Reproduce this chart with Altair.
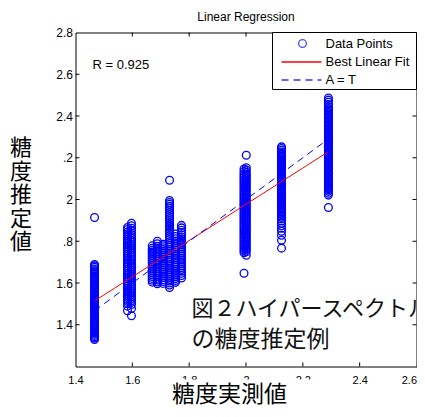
import altair as alt
import pandas as pd

# ---- data ----
col_x = [1.467, 1.583, 1.597,
         1.670, 1.688, 1.708, 1.731, 1.752, 1.773,
         1.993, 2.001, 2.125, 2.290]
col_y = [
    [1.329, 1.336, 1.342, 1.349, 1.355, 1.362, 1.368, 1.374, 1.381, 1.387, 1.394, 1.400, 1.407, 1.413,
     1.420, 1.426, 1.433, 1.439, 1.446, 1.452, 1.459, 1.465, 1.472, 1.478, 1.485, 1.491, 1.498, 1.504,
     1.511, 1.517, 1.524, 1.530, 1.537, 1.543, 1.550, 1.556, 1.563, 1.569, 1.576, 1.582, 1.589, 1.595,
     1.602, 1.608, 1.615, 1.621, 1.628, 1.634, 1.641, 1.647, 1.654, 1.660, 1.667, 1.675, 1.682, 1.689,
     1.914],
    [1.467, 1.489, 1.503, 1.512, 1.521, 1.530, 1.539, 1.548, 1.557, 1.566, 1.575, 1.584, 1.593, 1.602,
     1.611, 1.620, 1.629, 1.638, 1.647, 1.656, 1.665, 1.674, 1.683, 1.692, 1.701, 1.710, 1.719, 1.728,
     1.737, 1.746, 1.755, 1.764, 1.773, 1.782, 1.791, 1.800, 1.809, 1.818, 1.827, 1.836, 1.845, 1.856,
     1.866],
    [1.443, 1.478, 1.497, 1.507, 1.516, 1.525, 1.534, 1.543, 1.552, 1.561, 1.570, 1.579, 1.588, 1.597,
     1.606, 1.615, 1.624, 1.633, 1.642, 1.651, 1.660, 1.669, 1.678, 1.687, 1.696, 1.705, 1.714, 1.723,
     1.732, 1.741, 1.750, 1.759, 1.768, 1.777, 1.786, 1.795, 1.804, 1.813, 1.822, 1.831, 1.840, 1.851,
     1.862, 1.874, 1.886],
    [1.604, 1.613, 1.622, 1.631, 1.640, 1.649, 1.658, 1.667, 1.676, 1.685, 1.694, 1.703, 1.712, 1.721,
     1.730, 1.739, 1.748, 1.757, 1.766, 1.778],
    [1.596, 1.605, 1.614, 1.623, 1.632, 1.641, 1.650, 1.659, 1.668, 1.677, 1.686, 1.695, 1.704, 1.713,
     1.722, 1.731, 1.740, 1.749, 1.758, 1.767, 1.776, 1.788, 1.800],
    [1.598, 1.607, 1.616, 1.625, 1.634, 1.643, 1.652, 1.661, 1.670, 1.679, 1.688, 1.697, 1.706, 1.715,
     1.724, 1.733, 1.742, 1.751, 1.760, 1.769, 1.778, 1.786],
    [1.578, 1.590, 1.600, 1.609, 1.618, 1.627, 1.636, 1.645, 1.654, 1.663, 1.672, 1.681, 1.690, 1.699,
     1.708, 1.717, 1.726, 1.735, 1.744, 1.753, 1.762, 1.771, 1.780, 1.789, 1.798, 1.808, 1.818, 1.828,
     1.838, 1.848, 1.858, 1.868, 1.878, 1.888, 1.898, 1.908, 1.918, 1.928, 1.938, 1.948, 1.958, 1.968,
     1.977, 1.986, 1.995, 2.092],
    [1.603, 1.612, 1.621, 1.630, 1.639, 1.648, 1.657, 1.666, 1.675, 1.684, 1.693, 1.702, 1.711, 1.720,
     1.729, 1.738, 1.747, 1.756, 1.765, 1.774, 1.783, 1.792, 1.801, 1.812, 1.823, 1.835],
    [1.624, 1.636, 1.647, 1.656, 1.665, 1.674, 1.683, 1.692, 1.701, 1.710, 1.719, 1.728, 1.737, 1.746,
     1.755, 1.764, 1.773, 1.782, 1.791, 1.800, 1.810, 1.820, 1.831, 1.842, 1.853, 1.864, 1.876],
    [1.647, 1.745, 1.754, 1.763, 1.772, 1.781, 1.790, 1.799, 1.808, 1.817, 1.826, 1.835, 1.844, 1.853,
     1.862, 1.871, 1.880, 1.889, 1.898, 1.907, 1.916, 1.925, 1.934, 1.943, 1.952, 1.961, 1.970, 1.979,
     1.988, 1.997, 2.006, 2.015, 2.024, 2.033, 2.042, 2.051, 2.060, 2.069, 2.078, 2.087, 2.096, 2.105,
     2.114, 2.123, 2.134, 2.146],
    [1.733, 1.750, 1.760, 1.769, 1.778, 1.787, 1.796, 1.805, 1.814, 1.823, 1.832, 1.841, 1.850, 1.859,
     1.868, 1.877, 1.886, 1.895, 1.904, 1.913, 1.922, 1.931, 1.940, 1.949, 1.958, 1.967, 1.976, 1.985,
     1.994, 2.003, 2.012, 2.021, 2.030, 2.039, 2.048, 2.057, 2.066, 2.075, 2.084, 2.093, 2.102, 2.111,
     2.120, 2.130, 2.141, 2.152, 2.212],
    [1.767, 1.805, 1.829, 1.848, 1.862, 1.874, 1.886, 1.897, 1.907, 1.915, 1.922, 1.928, 1.935, 1.941,
     1.948, 1.954, 1.961, 1.967, 1.974, 1.980, 1.987, 1.993, 2.000, 2.006, 2.013, 2.019, 2.026, 2.032,
     2.039, 2.045, 2.052, 2.058, 2.065, 2.071, 2.078, 2.084, 2.091, 2.097, 2.104, 2.110, 2.117, 2.123,
     2.130, 2.136, 2.143, 2.149, 2.156, 2.162, 2.169, 2.175, 2.182, 2.188, 2.195, 2.201, 2.208, 2.214,
     2.221, 2.228, 2.236, 2.244, 2.252],
    [1.962, 2.021, 2.030, 2.039, 2.046, 2.052, 2.059, 2.065, 2.072, 2.078, 2.085, 2.091, 2.098, 2.104,
     2.111, 2.117, 2.124, 2.130, 2.137, 2.143, 2.150, 2.156, 2.163, 2.169, 2.176, 2.182, 2.189, 2.195,
     2.202, 2.208, 2.215, 2.221, 2.228, 2.234, 2.241, 2.247, 2.254, 2.260, 2.267, 2.273, 2.280, 2.286,
     2.293, 2.299, 2.306, 2.312, 2.319, 2.325, 2.332, 2.338, 2.345, 2.351, 2.358, 2.364, 2.371, 2.377,
     2.384, 2.390, 2.397, 2.403, 2.410, 2.416, 2.423, 2.429, 2.436, 2.445, 2.455, 2.466, 2.476, 2.486],
]

fit_t = [1.467, 2.290]
fit_a = [1.514, 2.229]
at_t = [1.467, 2.290]
at_a = [1.467, 2.290]

x_ticks = [1.4, 1.6, 1.8, 2.0, 2.2, 2.4, 2.6]
y_ticks = [1.4, 1.6, 1.8, 2.0, 2.2, 2.4, 2.6, 2.8]
x_inner = [1.6, 1.8, 2.0, 2.2, 2.4]
y_inner = [1.4, 1.6, 1.8, 2.0, 2.2, 2.4, 2.6]

title_text = ["Linear Regression"]
r_text = ["R = 0.925"]
leg_labels = ["Data Points", "Best Linear Fit", "A = T"]
x_title = ["糖度実測値"]
y_title = ["糖", "度", "推", "定", "値"]
caption = ["図２ハイパースペクトル", "の糖度推定例"]

# ---- build tables ----
rows = [(x, y) for x, ys in zip(col_x, col_y) for y in ys]
pts = pd.DataFrame(rows, columns=["t", "a"])
fit = pd.DataFrame({"t": fit_t, "a": fit_a})
ident = pd.DataFrame({"t": at_t, "a": at_a})
one = pd.DataFrame({"k": [0]})

W, H = 341, 334
BLUE = "#0000ff"
RED = "#ff0000"
LAT = "Liberation Sans"
JP = "Noto Sans CJK JP"

xs = alt.Scale(domain=[1.4, 2.6], nice=False, zero=False)
ys = alt.Scale(domain=[1.2, 2.8], nice=False, zero=False)

x_axis = alt.Axis(values=x_ticks, format="~g", ticks=False, domain=False, grid=False,
                  labelFont=LAT, labelFontSize=11, labelColor="black", labelPadding=8,
                  labelFlush=False, labelOverlap=False, zindex=0,
                  labelAlign={"condition": {"test": "datum.value == 2.6", "value": "right"},
                              "value": "center"},
                  title=None)
y_axis = alt.Axis(values=y_ticks, ticks=False, domain=False, grid=False,
                  labelExpr="datum.value == 2.2 ? '.2' : datum.value == 1.8 ? '.8' : format(datum.value, '~g')",
                  labelFont=LAT, labelFontSize=12, labelColor="black", labelPadding=3,
                  labelFlush=False, labelOverlap=False,
                  title=y_title, titleFont=JP, titleFontSize=22, titleFontWeight="normal",
                  titleColor="black", titleAngle=0, titleX=-55, titleY=105,
                  titleAlign="center", titleBaseline="top", titleLineHeight=23.6)

points = alt.Chart(pts).mark_point(shape="circle", filled=False, color=BLUE, size=60,
                                   strokeWidth=1.3, opacity=1).encode(
    x=alt.X("t:Q", scale=xs, axis=x_axis),
    y=alt.Y("a:Q", scale=ys, axis=y_axis),
)

fit_line = alt.Chart(fit).mark_line(color=RED, strokeWidth=1).encode(
    x=alt.X("t:Q", scale=xs), y=alt.Y("a:Q", scale=ys))
id_line = alt.Chart(ident).mark_line(color=BLUE, strokeWidth=1, strokeDash=[7, 5]).encode(
    x=alt.X("t:Q", scale=xs), y=alt.Y("a:Q", scale=ys))

xt = pd.DataFrame({"t": x_inner})
yt = pd.DataFrame({"a": y_inner})
tick_b = alt.Chart(xt).mark_rule(color="black").encode(
    x=alt.X("t:Q", scale=xs), y=alt.value(H), y2=alt.value(H - 4))
tick_t = alt.Chart(xt).mark_rule(color="black").encode(
    x=alt.X("t:Q", scale=xs), y=alt.value(0), y2=alt.value(4))
tick_l = alt.Chart(yt).mark_rule(color="black").encode(
    y=alt.Y("a:Q", scale=ys), x=alt.value(0), x2=alt.value(4))
tick_r = alt.Chart(yt).mark_rule(color="black").encode(
    y=alt.Y("a:Q", scale=ys), x=alt.value(W), x2=alt.value(W - 4))

title_mark = alt.Chart(pd.DataFrame({"label": title_text})).mark_text(
    align="center", baseline="alphabetic", font=LAT, fontSize=12, color="black").encode(
    x=alt.value(W / 2), y=alt.value(-12), text="label:N")

r_note = alt.Chart(pd.DataFrame({"label": r_text})).mark_text(
    align="left", baseline="middle", font=LAT, fontSize=13, color="black").encode(
    x=alt.value(17), y=alt.value(32), text="label:N")

# legend box
leg_box = alt.Chart(one).mark_rect(fill="white", stroke="black", strokeWidth=1).encode(
    x=alt.value(197), x2=alt.value(W), y=alt.value(0), y2=alt.value(57))
leg_pt = alt.Chart(one).mark_point(shape="circle", filled=False, color=BLUE, size=60,
                                   strokeWidth=1.3).encode(x=alt.value(227), y=alt.value(11))
leg_fit = alt.Chart(one).mark_rule(stroke=RED, strokeWidth=1.4).encode(
    x=alt.value(206), x2=alt.value(246), y=alt.value(29.5))
leg_id = alt.Chart(one).mark_rule(stroke="#3333ff", strokeWidth=1.4, strokeDash=[7, 5]).encode(
    x=alt.value(206), x2=alt.value(246), y=alt.value(47.5))
leg_txt = [
    alt.Chart(pd.DataFrame({"label": [lab]})).mark_text(
        align="left", baseline="middle", font=LAT, fontSize=13, color="black").encode(
        x=alt.value(250), y=alt.value(11 + 18 * i), text="label:N")
    for i, lab in enumerate(leg_labels)
]

# white patch that hides the lower part of three x tick labels, as in the reference
cover = alt.Chart(one).mark_rect(fill="white").encode(
    x=alt.value(95), x2=alt.value(254), y=alt.value(347), y2=alt.value(362))

# x axis title drawn above the white patch
x_title_mark = alt.Chart(pd.DataFrame({"label": x_title})).mark_text(
    align="center", baseline="middle", font=JP, fontSize=23, color="black").encode(
    x=alt.value(154), y=alt.value(H + 28), text="label:N")

cap1 = alt.Chart(pd.DataFrame({"label": [caption[0]]})).mark_text(
    align="left", baseline="middle", font=JP, fontSize=22, color="#111111").encode(
    x=alt.value(116), y=alt.value(276), text="label:N")
cap2 = alt.Chart(pd.DataFrame({"label": [caption[1]]})).mark_text(
    align="left", baseline="middle", font=JP, fontSize=23, color="#111111").encode(
    x=alt.value(116), y=alt.value(307), text="label:N")

chart = alt.layer(
    points, fit_line, id_line, tick_b, tick_t, tick_l, tick_r, title_mark, r_note,
    leg_box, leg_pt, leg_fit, leg_id, *leg_txt, cover, x_title_mark, cap1, cap2
).properties(
    width=W, height=H,
    padding={"left": 67.5, "top": 24.5, "right": 0.5, "bottom": 40},
    autosize=alt.AutoSizeParams(type="none"),
).configure_view(stroke="black", strokeWidth=1)

chart.save("out.html", embed_options={"renderer": "svg", "actions": False})
